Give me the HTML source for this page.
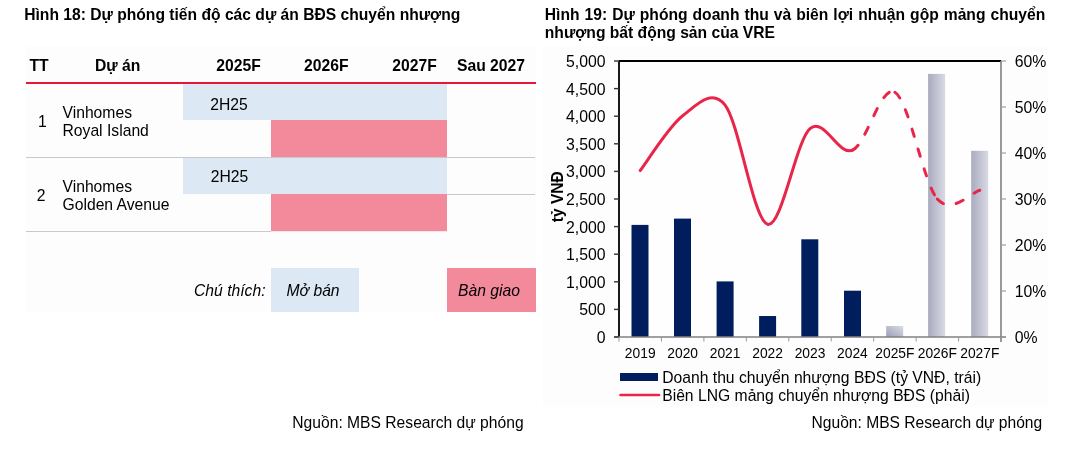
<!DOCTYPE html>
<html><head><meta charset="utf-8"><style>
html,body{margin:0;padding:0;background:#fff;width:1087px;height:455px;overflow:hidden}
svg{display:block;will-change:transform}
text{font-family:"Liberation Sans", sans-serif}
</style></head><body>
<svg width="1087" height="455" viewBox="0 0 1087 455">
<rect x="26" y="46" width="510" height="266" fill="#fdfdfd"/>
<text x="24.2" y="20" font-size="15.65" font-weight="bold" font-style="normal" text-anchor="start" fill="#000" >Hình 18: Dự phóng tiến độ các dự án BĐS chuyển nhượng</text>
<text x="29.4" y="71.4" font-size="15.7" font-weight="bold" font-style="normal" text-anchor="start" fill="#000" >TT</text>
<text x="117.6" y="71.4" font-size="15.7" font-weight="bold" font-style="normal" text-anchor="middle" fill="#000" >Dự án</text>
<text x="238.5" y="71.4" font-size="15.7" font-weight="bold" font-style="normal" text-anchor="middle" fill="#000" >2025F</text>
<text x="326.3" y="71.4" font-size="15.7" font-weight="bold" font-style="normal" text-anchor="middle" fill="#000" >2026F</text>
<text x="414.5" y="71.4" font-size="15.7" font-weight="bold" font-style="normal" text-anchor="middle" fill="#000" >2027F</text>
<text x="491" y="71.4" font-size="15.7" font-weight="bold" font-style="normal" text-anchor="middle" fill="#000" >Sau 2027</text>
<rect x="26" y="82" width="510" height="2" fill="#e8163a"/>
<rect x="183" y="84" width="264" height="36" fill="#dce9f5"/>
<rect x="271" y="120" width="176" height="37" fill="#f28a9b"/>
<text x="210.2" y="109.5" font-size="15.7" font-weight="normal" font-style="normal" text-anchor="start" fill="#000" >2H25</text>
<text x="38" y="126.6" font-size="15.7" font-weight="normal" font-style="normal" text-anchor="start" fill="#000" >1</text>
<text x="62.5" y="118.1" font-size="15.7" font-weight="normal" font-style="normal" text-anchor="start" fill="#000" >Vinhomes</text>
<text x="62.5" y="135.8" font-size="15.7" font-weight="normal" font-style="normal" text-anchor="start" fill="#000" >Royal Island</text>
<rect x="26" y="157" width="509" height="1" fill="#c9c9c9"/>
<rect x="183" y="158" width="264" height="36" fill="#dce9f5"/>
<rect x="271" y="194" width="176" height="37.2" fill="#f28a9b"/>
<rect x="447" y="194" width="88" height="1" fill="#c9c9c9"/>
<rect x="26" y="231" width="245" height="1" fill="#c9c9c9"/>
<text x="210.8" y="182.3" font-size="15.7" font-weight="normal" font-style="normal" text-anchor="start" fill="#000" >2H25</text>
<text x="36.8" y="201" font-size="15.7" font-weight="normal" font-style="normal" text-anchor="start" fill="#000" >2</text>
<text x="62.5" y="191.9" font-size="15.7" font-weight="normal" font-style="normal" text-anchor="start" fill="#000" >Vinhomes</text>
<text x="62.5" y="209.9" font-size="15.7" font-weight="normal" font-style="normal" text-anchor="start" fill="#000" >Golden Avenue</text>
<rect x="271" y="268" width="88" height="44" fill="#dce9f5"/>
<rect x="447" y="268" width="89" height="44" fill="#f28a9b"/>
<text x="194" y="296" font-size="15.7" font-weight="normal" font-style="italic" text-anchor="start" fill="#000" >Chú thích:</text>
<text x="286.5" y="296" font-size="15.7" font-weight="normal" font-style="italic" text-anchor="start" fill="#000" >Mở bán</text>
<text x="458" y="296" font-size="15.7" font-weight="normal" font-style="italic" text-anchor="start" fill="#000" >Bàn giao</text>
<text x="292.3" y="428" font-size="15.65" font-weight="normal" font-style="normal" text-anchor="start" fill="#000" >Nguồn: MBS Research dự phóng</text>
<rect x="543" y="46" width="504.5" height="361" fill="#fdfdfd"/>
<text x="544.8" y="19.9" font-size="15.65" font-weight="bold" font-style="normal" text-anchor="start" fill="#000" word-spacing="0.66">Hình 19: Dự phóng doanh thu và biên lợi nhuận gộp mảng chuyển</text>
<text x="544.8" y="37.5" font-size="15.65" font-weight="bold" font-style="normal" text-anchor="start" fill="#000" >nhượng bất động sản của VRE</text>
<rect x="619" y="61" width="382" height="276" fill="#fefefe"/>
<defs><linearGradient id="g1" x1="0" y1="0" x2="1" y2="0"><stop offset="0" stop-color="#a9abbf"/><stop offset="1" stop-color="#d9dae4"/></linearGradient><linearGradient id="g2" x1="0" y1="1" x2="1" y2="0"><stop offset="0" stop-color="#9a9db5"/><stop offset="1" stop-color="#dcdde6"/></linearGradient></defs>
<rect x="631.50" y="224.89" width="17" height="112.11" fill="#001e5e"/>
<rect x="674.00" y="218.60" width="17" height="118.40" fill="#001e5e"/>
<rect x="716.60" y="281.41" width="17" height="55.59" fill="#001e5e"/>
<rect x="759.10" y="316.02" width="17" height="20.98" fill="#001e5e"/>
<rect x="801.30" y="239.30" width="17" height="97.70" fill="#001e5e"/>
<rect x="844.00" y="290.69" width="17" height="46.31" fill="#001e5e"/>
<rect x="886.20" y="326.02" width="17" height="10.98" fill="url(#g2)"/>
<rect x="928.10" y="73.92" width="17" height="263.08" fill="url(#g1)"/>
<rect x="971.20" y="150.81" width="17" height="186.19" fill="url(#g1)"/>
<line x1="619" y1="61" x2="1001" y2="61" stroke="#000" stroke-width="2"/>
<line x1="619" y1="61" x2="619" y2="337" stroke="#000" stroke-width="1.8"/>
<line x1="1001" y1="61" x2="1001" y2="342" stroke="#808080" stroke-width="1.6"/>
<line x1="614" y1="337" x2="1006" y2="337" stroke="#808080" stroke-width="1.6"/>
<line x1="614" y1="61.00" x2="619" y2="61.00" stroke="#333" stroke-width="1.4"/>
<text x="605.5" y="67.00" font-size="15.8" font-weight="normal" font-style="normal" text-anchor="end" fill="#000" >5,000</text>
<line x1="614" y1="88.60" x2="619" y2="88.60" stroke="#333" stroke-width="1.4"/>
<text x="605.5" y="94.60" font-size="15.8" font-weight="normal" font-style="normal" text-anchor="end" fill="#000" >4,500</text>
<line x1="614" y1="116.20" x2="619" y2="116.20" stroke="#333" stroke-width="1.4"/>
<text x="605.5" y="122.20" font-size="15.8" font-weight="normal" font-style="normal" text-anchor="end" fill="#000" >4,000</text>
<line x1="614" y1="143.80" x2="619" y2="143.80" stroke="#333" stroke-width="1.4"/>
<text x="605.5" y="149.80" font-size="15.8" font-weight="normal" font-style="normal" text-anchor="end" fill="#000" >3,500</text>
<line x1="614" y1="171.40" x2="619" y2="171.40" stroke="#333" stroke-width="1.4"/>
<text x="605.5" y="177.40" font-size="15.8" font-weight="normal" font-style="normal" text-anchor="end" fill="#000" >3,000</text>
<line x1="614" y1="199.00" x2="619" y2="199.00" stroke="#333" stroke-width="1.4"/>
<text x="605.5" y="205.00" font-size="15.8" font-weight="normal" font-style="normal" text-anchor="end" fill="#000" >2,500</text>
<line x1="614" y1="226.60" x2="619" y2="226.60" stroke="#333" stroke-width="1.4"/>
<text x="605.5" y="232.60" font-size="15.8" font-weight="normal" font-style="normal" text-anchor="end" fill="#000" >2,000</text>
<line x1="614" y1="254.20" x2="619" y2="254.20" stroke="#333" stroke-width="1.4"/>
<text x="605.5" y="260.20" font-size="15.8" font-weight="normal" font-style="normal" text-anchor="end" fill="#000" >1,500</text>
<line x1="614" y1="281.80" x2="619" y2="281.80" stroke="#333" stroke-width="1.4"/>
<text x="605.5" y="287.80" font-size="15.8" font-weight="normal" font-style="normal" text-anchor="end" fill="#000" >1,000</text>
<line x1="614" y1="309.40" x2="619" y2="309.40" stroke="#333" stroke-width="1.4"/>
<text x="605.5" y="315.40" font-size="15.8" font-weight="normal" font-style="normal" text-anchor="end" fill="#000" >500</text>
<line x1="614" y1="337.00" x2="619" y2="337.00" stroke="#333" stroke-width="1.4"/>
<text x="605.5" y="343.00" font-size="15.8" font-weight="normal" font-style="normal" text-anchor="end" fill="#000" >0</text>
<line x1="1001" y1="61.00" x2="1006" y2="61.00" stroke="#999" stroke-width="1.1"/>
<text x="1014.8" y="67.00" font-size="15.8" font-weight="normal" font-style="normal" text-anchor="start" fill="#000" >60%</text>
<line x1="1001" y1="107.00" x2="1006" y2="107.00" stroke="#999" stroke-width="1.1"/>
<text x="1014.8" y="113.00" font-size="15.8" font-weight="normal" font-style="normal" text-anchor="start" fill="#000" >50%</text>
<line x1="1001" y1="153.00" x2="1006" y2="153.00" stroke="#999" stroke-width="1.1"/>
<text x="1014.8" y="159.00" font-size="15.8" font-weight="normal" font-style="normal" text-anchor="start" fill="#000" >40%</text>
<line x1="1001" y1="199.00" x2="1006" y2="199.00" stroke="#999" stroke-width="1.1"/>
<text x="1014.8" y="205.00" font-size="15.8" font-weight="normal" font-style="normal" text-anchor="start" fill="#000" >30%</text>
<line x1="1001" y1="245.00" x2="1006" y2="245.00" stroke="#999" stroke-width="1.1"/>
<text x="1014.8" y="251.00" font-size="15.8" font-weight="normal" font-style="normal" text-anchor="start" fill="#000" >20%</text>
<line x1="1001" y1="291.00" x2="1006" y2="291.00" stroke="#999" stroke-width="1.1"/>
<text x="1014.8" y="297.00" font-size="15.8" font-weight="normal" font-style="normal" text-anchor="start" fill="#000" >10%</text>
<line x1="1001" y1="337.00" x2="1006" y2="337.00" stroke="#999" stroke-width="1.1"/>
<text x="1014.8" y="343.00" font-size="15.8" font-weight="normal" font-style="normal" text-anchor="start" fill="#000" >0%</text>
<line x1="619.00" y1="337" x2="619.00" y2="341.5" stroke="#999" stroke-width="1"/>
<line x1="661.44" y1="337" x2="661.44" y2="341.5" stroke="#999" stroke-width="1"/>
<line x1="703.89" y1="337" x2="703.89" y2="341.5" stroke="#999" stroke-width="1"/>
<line x1="746.33" y1="337" x2="746.33" y2="341.5" stroke="#999" stroke-width="1"/>
<line x1="788.78" y1="337" x2="788.78" y2="341.5" stroke="#999" stroke-width="1"/>
<line x1="831.22" y1="337" x2="831.22" y2="341.5" stroke="#999" stroke-width="1"/>
<line x1="873.67" y1="337" x2="873.67" y2="341.5" stroke="#999" stroke-width="1"/>
<line x1="916.11" y1="337" x2="916.11" y2="341.5" stroke="#999" stroke-width="1"/>
<line x1="958.56" y1="337" x2="958.56" y2="341.5" stroke="#999" stroke-width="1"/>
<line x1="1001.00" y1="337" x2="1001.00" y2="341.5" stroke="#999" stroke-width="1"/>
<text x="640.22" y="358" font-size="13.8" font-weight="normal" font-style="normal" text-anchor="middle" fill="#000" >2019</text>
<text x="682.67" y="358" font-size="13.8" font-weight="normal" font-style="normal" text-anchor="middle" fill="#000" >2020</text>
<text x="725.11" y="358" font-size="13.8" font-weight="normal" font-style="normal" text-anchor="middle" fill="#000" >2021</text>
<text x="767.56" y="358" font-size="13.8" font-weight="normal" font-style="normal" text-anchor="middle" fill="#000" >2022</text>
<text x="810.00" y="358" font-size="13.8" font-weight="normal" font-style="normal" text-anchor="middle" fill="#000" >2023</text>
<text x="852.44" y="358" font-size="13.8" font-weight="normal" font-style="normal" text-anchor="middle" fill="#000" >2024</text>
<text x="894.89" y="358" font-size="13.8" font-weight="normal" font-style="normal" text-anchor="middle" fill="#000" >2025F</text>
<text x="937.33" y="358" font-size="13.8" font-weight="normal" font-style="normal" text-anchor="middle" fill="#000" >2026F</text>
<text x="979.78" y="358" font-size="13.8" font-weight="normal" font-style="normal" text-anchor="middle" fill="#000" >2027F</text>
<text x="0" y="0" font-size="15.6" font-weight="bold" text-anchor="middle" transform="translate(563.0,196.7) rotate(-90)">tỷ VNĐ</text>
<path d="M640.22,170.48 C647.30,161.36 668.52,126.63 682.67,115.74 C696.81,104.85 711.64,87.93 725.11,105.16 C739.26,123.25 753.41,220.39 767.56,224.30 C781.70,228.21 795.85,140.96 810.00,128.62 C824.15,116.28 838.30,156.30 852.44,150.24" fill="none" stroke="#e8264a" stroke-width="3" stroke-linecap="round" stroke-linejoin="round"/>
<path d="M852.44,150.24 C866.59,144.18 880.74,84.15 894.89,92.28" fill="none" stroke="#e8264a" stroke-width="3" stroke-linecap="round" stroke-dasharray="7.6 13"/>
<path d="M894.89,92.28 C909.04,100.41 923.19,182.67 937.33,199.00" fill="none" stroke="#e8264a" stroke-width="3" stroke-linecap="round" stroke-dasharray="7.6 13"/>
<path d="M937.33,199.00 C951.48,215.33 972.70,191.72 979.78,190.26" fill="none" stroke="#e8264a" stroke-width="3" stroke-linecap="round" stroke-dasharray="7.6 13"/>
<rect x="620" y="373" width="38" height="8" fill="#001e5e"/>
<line x1="620.5" y1="395" x2="659" y2="395" stroke="#e8264a" stroke-width="2.6" stroke-linecap="round"/>
<text x="662.2" y="382.6" font-size="15.7" font-weight="normal" font-style="normal" text-anchor="start" fill="#000" >Doanh thu chuyển nhượng BĐS (tỷ VNĐ, trái)</text>
<text x="662.2" y="400.6" font-size="15.7" font-weight="normal" font-style="normal" text-anchor="start" fill="#000" >Biên LNG mảng chuyển nhượng BĐS (phải)</text>
<text x="811.6" y="428" font-size="15.6" font-weight="normal" font-style="normal" text-anchor="start" fill="#000" >Nguồn: MBS Research dự phóng</text>
</svg>
</body></html>
